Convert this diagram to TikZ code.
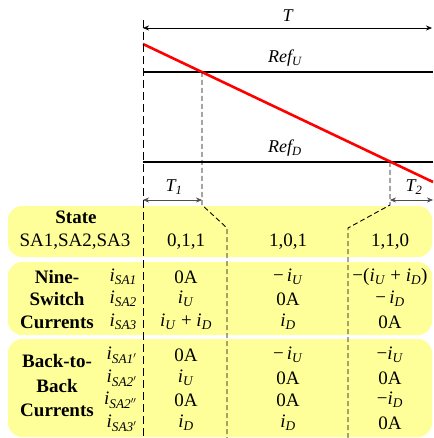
\documentclass[tikz,border=0pt]{standalone}
\usepackage{fontspec}
\setmainfont{Liberation Serif}
\usetikzlibrary{arrows.meta}
\definecolor{panel}{RGB}{255,255,153}
\definecolor{refred}{RGB}{255,0,0}
\newcommand{\isw}[1]{\textit{i}\textsubscript{\textit{#1}}}
\tikzset{
  panelbox/.style={fill=panel,draw=none,rounded corners=14pt},
  cell/.style={inner sep=0pt,font=\fontsize{19}{22}\selectfont},
  head/.style={inner sep=0pt,font=\fontsize{19}{22}\selectfont\bfseries},
  lbl/.style={inner sep=0pt,font=\fontsize{18}{21}\selectfont\itshape},
  guide/.style={dash pattern=on 5pt off 3pt,line width=0.9pt},
  span/.style={{Stealth[length=6pt,width=5pt]}-{Stealth[length=6pt,width=5pt]},semithick},
}
\begin{document}
\begin{tikzpicture}[x=1pt,y=-1pt]
  \useasboundingbox (0,0) rectangle (433,438);
  % yellow panels
  \fill[panelbox] (8,206) rectangle (432,257);
  \fill[panelbox] (8,262) rectangle (432,335);
  \fill[panelbox] (8,339) rectangle (432,437);
  % carrier and references
  \coordinate (t0) at (143,28);
  \coordinate (t1) at (432,28);
  \coordinate (cu) at (202,72);
  \coordinate (cd) at (390,162);
  \draw[span] (t0) -- (t1) node[lbl,midway,above=6pt] {T};
  \draw[very thick] (143,72) -- (433,72);
  \draw[very thick] (143,162) -- (433,162);
  \node[lbl] (refu) at (285,58) {Ref\textsubscript{U}};
  \node[lbl] (refd) at (285,148) {Ref\textsubscript{D}};
  \draw[refred,line width=2.6pt] (143,44) -- (433,182);
  % switching instants
  \draw[guide,dash pattern=on 8pt off 4pt] (143,20) -- (143,438);
  \draw[guide] (cu) -- (202,205) -- (227,228) -- (227,438);
  \draw[guide] (cd) -- (390,205) -- (348,228) -- (348,438);
  \draw[span,black!70] (143,200) -- (202,200);
  \draw[span,black!70] (390,200) -- (433,200);
  \node[lbl] (tone) at (174,187) {T\textsubscript{1}};
  \node[lbl] (ttwo) at (414,187) {T\textsubscript{2}};
  % state row
  \node[head] (state) at (76,217) {State};
  \node[cell] (sa) at (75,242) {SA1,SA2,SA3};
  \node[cell] (s1) at (186,242) {0,1,1};
  \node[cell] (s2) at (288,242) {1,0,1};
  \node[cell] (s3) at (390,242) {1,1,0};
  % nine-switch currents
  \node[head] (nine) at (57,277) {Nine-};
  \node[head] (switch) at (57,299) {Switch};
  \node[head] (curra) at (57,322) {Currents};
  \node[cell,anchor=east] (ia) at (137,277) {\isw{SA1}};
  \node[cell,anchor=east] (ib) at (137,299) {\isw{SA2}};
  \node[cell,anchor=east] (ic) at (137,322) {\isw{SA3}};
  \node[cell] (a1) at (186,277) {0A};
  \node[cell] (b1) at (186,299) {\isw{U}};
  \node[cell] (c1) at (186,322) {\isw{U} + \isw{D}};
  \node[cell] (a2) at (288,277) {−\,\isw{U}};
  \node[cell] (b2) at (288,299) {0A};
  \node[cell] (c2) at (288,322) {\isw{D}};
  \node[cell] (a3) at (390,277) {−(\isw{U} + \isw{D})};
  \node[cell] (b3) at (390,299) {−\,\isw{D}};
  \node[cell] (c3) at (390,322) {0A};
  % back-to-back currents
  \node[head] (back) at (57,361) {Back-to-};
  \node[head] (backb) at (57,386) {Back};
  \node[head] (currb) at (57,410) {Currents};
  \node[cell,anchor=east] (ja) at (137,355) {\isw{SA1$'$}};
  \node[cell,anchor=east] (jb) at (137,378) {\isw{SA2$'$}};
  \node[cell,anchor=east] (jc) at (137,400) {\isw{SA2$''$}};
  \node[cell,anchor=east] (jd) at (137,423) {\isw{SA3$'$}};
  \node[cell] (d1) at (186,355) {0A};
  \node[cell] (e1) at (186,378) {\isw{U}};
  \node[cell] (f1) at (186,400) {0A};
  \node[cell] (g1) at (186,423) {\isw{D}};
  \node[cell] (d2) at (288,355) {−\,\isw{U}};
  \node[cell] (e2) at (288,378) {0A};
  \node[cell] (f2) at (288,400) {0A};
  \node[cell] (g2) at (288,423) {\isw{D}};
  \node[cell] (d3) at (390,355) {−\isw{U}};
  \node[cell] (e3) at (390,378) {0A};
  \node[cell] (f3) at (390,400) {−\isw{D}};
  \node[cell] (g3) at (390,423) {0A};
\end{tikzpicture}
\end{document}
